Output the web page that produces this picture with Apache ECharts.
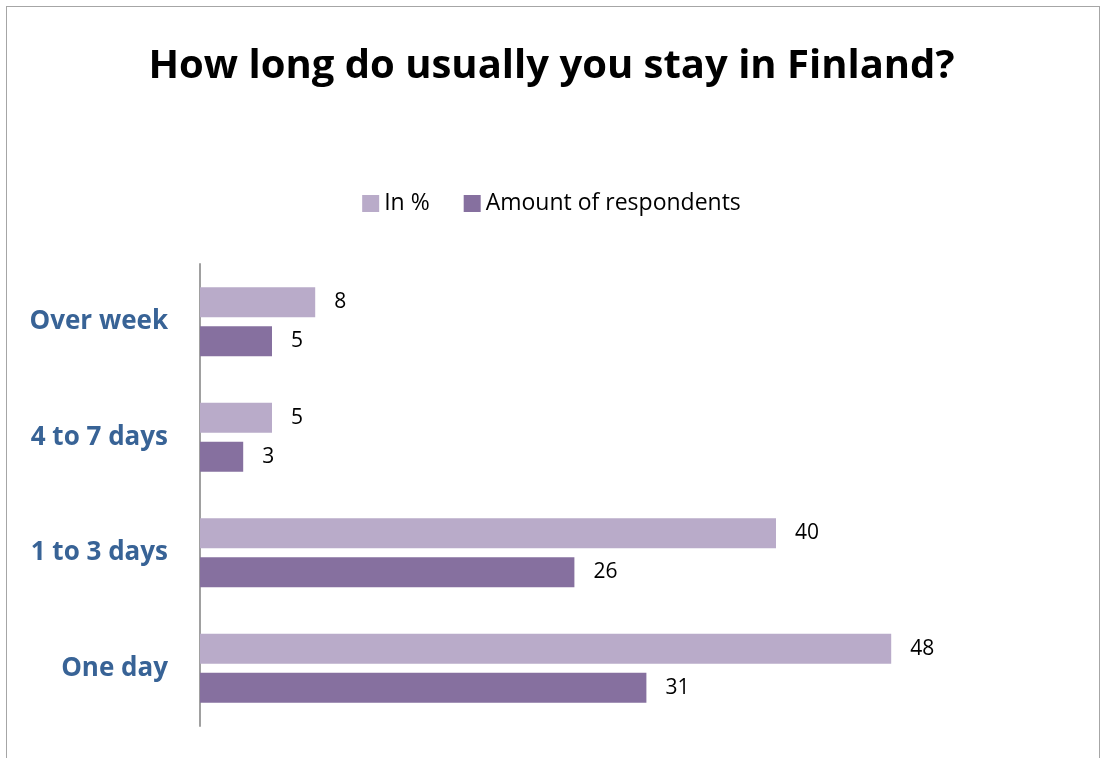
<!DOCTYPE html>
<html>
<head>
<meta charset="utf-8">
<script src="https://cdn.jsdelivr.net/npm/echarts@6/dist/echarts.min.js"></script>
<style>
  html, body { margin: 0; padding: 0; background: #fff; }
  #frame { position: absolute; left: 6px; top: 6px; width: 1094px; height: 760px; border: 1px solid #a6a6a6; box-sizing: border-box; }
  #chart { width: 1103px; height: 758px; }
</style>
</head>
<body>
<div id="frame"></div>
<div id="chart"></div>
<script>
// categories, bottom to top
const categories = ['One day', '1 to 3 days', '4 to 7 days', 'Over week']
const percentValues = [48, 40, 5, 8]
const respondentValues = [31, 26, 3, 5]
const seriesNames = ['In %', 'Amount of respondents']

const chart = echarts.init(document.getElementById('chart'))

const labelStyle = {
  show: true,
  position: 'right',
  distance: 19,
  color: '#000',
  fontFamily: 'Open Sans',
  fontSize: 21
}

chart.setOption({
  animation: false,
  title: {
    text: 'How long do usually you stay in Finland?',
    left: 'center',
    top: 42,
    textStyle: {
      fontFamily: 'Open Sans',
      fontWeight: 'bold',
      fontSize: 40,
      color: '#000'
    }
  },
  legend: {
    data: seriesNames,
    top: 187,
    left: 'center',
    itemWidth: 17,
    itemHeight: 17,
    itemGap: 34,
    icon: 'rect',
    textStyle: {
      fontFamily: 'Open Sans',
      fontSize: 23,
      color: '#000'
    }
  },
  grid: {
    left: 200,
    right: 183,
    top: 264,
    bottom: 32,
    containLabel: false
  },
  xAxis: {
    type: 'value',
    min: 0,
    max: 50,
    show: false
  },
  yAxis: {
    type: 'category',
    data: categories,
    axisLine: { lineStyle: { color: '#a0a0a0', width: 2 } },
    axisTick: { show: false },
    axisLabel: {
      margin: 32,
      padding: [8, 0, 0, 0],
      color: '#386396',
      fontFamily: 'Open Sans',
      fontWeight: 'bold',
      fontSize: 26
    }
  },
  series: [
    {
      name: seriesNames[0],
      type: 'bar',
      data: percentValues,
      barWidth: 30,
      barGap: '30%',
      itemStyle: { color: '#b9abc9' },
      label: labelStyle
    },
    {
      name: seriesNames[1],
      type: 'bar',
      data: respondentValues,
      barWidth: 30,
      barGap: '30%',
      itemStyle: { color: '#86709f' },
      label: labelStyle
    }
  ]
})
</script>
</body>
</html>
